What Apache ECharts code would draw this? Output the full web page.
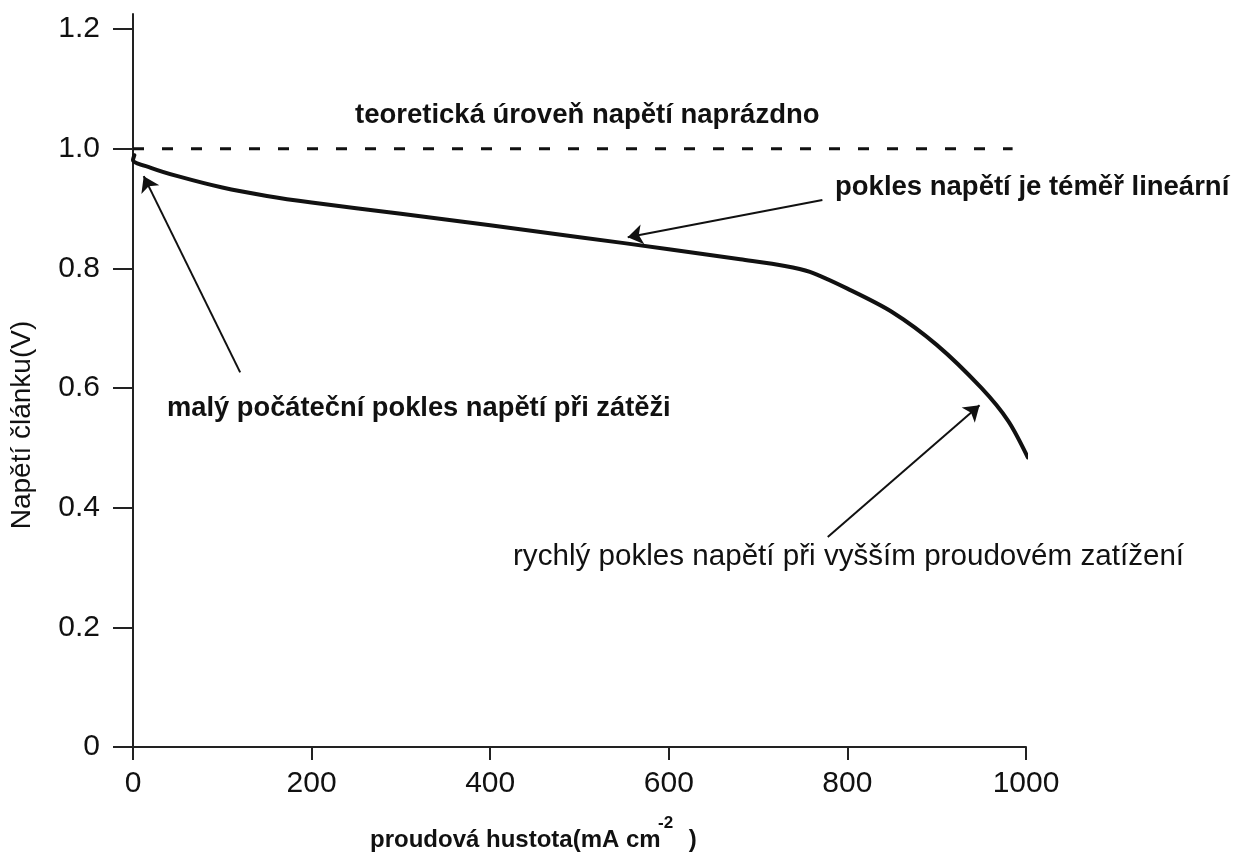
<!DOCTYPE html>
<html>
<head>
<meta charset="utf-8">
<script src="https://cdn.jsdelivr.net/npm/echarts@6/dist/echarts.min.js"></script>
<style>
html,body{margin:0;padding:0;background:#fff;}
#chart{width:1236px;height:852px;}
</style>
</head>
<body>
<div id="chart"></div>
<script>
// ---- data ----
var currentDensity = [1.5, 0, 20, 50, 100, 150, 200, 300, 400, 500, 600, 680, 730, 758, 800, 850, 900, 950, 980, 1002];
var cellVoltage    = [0.989, 0.981, 0.968, 0.954, 0.935, 0.921, 0.910, 0.891, 0.872, 0.852, 0.832, 0.815, 0.804, 0.794, 0.766, 0.727, 0.672, 0.600, 0.545, 0.484];
var openCircuitX = [0, 985];
var openCircuitV = [1.0, 1.0];
var xTicks = [0, 200, 400, 600, 800, 1000];
var yTicks = [0, 0.2, 0.4, 0.6, 0.8, 1.0, 1.2];
var arrowFrom = [[120, 0.626], [772, 0.914], [778, 0.351]];
var arrowTo   = [[12, 0.954], [554, 0.852], [948, 0.571]];
var notes = [
  {text: 'teoretická úroveň napětí naprázdno'},
  {text: 'pokles napětí je téměř lineární'},
  {text: 'malý počáteční pokles napětí při zátěži'},
  {text: 'rychlý pokles napětí při vyšším proudovém zatížení'}
];
var xTitle = ['proudová hustota(mA cm', '-2', ' )'];
var yTitle = 'Napětí článku(V)';

var FONT = '"Liberation Sans", Arial, Helvetica, sans-serif';
var INK = '#111';

var chart = echarts.init(document.getElementById('chart'));

var curve = currentDensity.map(function (x, i) { return [x, cellVoltage[i]]; });
var ocv = openCircuitX.map(function (x, i) { return [x, openCircuitV[i]]; });
var arrows = arrowFrom.map(function (f, i) { return {coords: [f, arrowTo[i]]}; });

var notePos = [
  {x: 355, y: 115, weight: 'bold', size: 27.5},
  {x: 835, y: 187, weight: 'bold', size: 27.5},
  {x: 167, y: 408, weight: 'bold', size: 27.3},
  {x: 513, y: 557, weight: 'normal', size: 29.6}
];

var graphics = notes.map(function (n, i) {
  var p = notePos[i];
  return {
    type: 'text', x: p.x, y: p.y, silent: true,
    style: {text: n.text, fill: INK, fontFamily: FONT, fontSize: p.size, fontWeight: p.weight,
            textAlign: 'left', textVerticalAlign: 'middle'}
  };
});
graphics.push({
  type: 'group', x: 370, y: 840, silent: true,
  children: [
    {type: 'text', x: 0, y: 0, style: {text: xTitle[0], fill: INK, fontFamily: FONT, fontSize: 24, fontWeight: 'bold', textVerticalAlign: 'middle'}},
    {type: 'text', x: 288, y: -17, style: {text: xTitle[1], fill: INK, fontFamily: FONT, fontSize: 17, fontWeight: 'bold', textVerticalAlign: 'middle'}},
    {type: 'text', x: 312, y: 0, style: {text: xTitle[2], fill: INK, fontFamily: FONT, fontSize: 24, fontWeight: 'bold', textVerticalAlign: 'middle'}}
  ]
});
graphics.push({
  type: 'text', x: 22, y: 425, rotation: Math.PI / 2, silent: true,
  style: {text: yTitle, fill: INK, fontFamily: FONT, fontSize: 28, textAlign: 'center', textVerticalAlign: 'middle'}
});

var option = {
  backgroundColor: '#fff',
  animation: false,
  grid: {left: 133, right: 210, top: 14, bottom: 105, containLabel: false},
  xAxis: {
    type: 'value', min: 0, max: 1000, interval: 200,
    axisLine: {show: true, onZero: false, lineStyle: {color: '#222', width: 2}},
    axisTick: {show: true, inside: false, length: 13, lineStyle: {color: '#222', width: 2}, customValues: xTicks},
    axisLabel: {show: true, margin: 22, color: '#111', fontFamily: FONT, fontSize: 30, customValues: xTicks,
      formatter: function (v) { return String(Math.round(v)); }},
    splitLine: {show: false}
  },
  yAxis: {
    type: 'value', min: 0, max: 1.225,
    axisLine: {show: true, onZero: false, lineStyle: {color: '#222', width: 2}},
    axisTick: {show: true, inside: false, length: 20, lineStyle: {color: '#222', width: 2}, customValues: yTicks},
    axisLabel: {show: true, margin: 33, color: '#111', fontFamily: FONT, fontSize: 30, customValues: yTicks,
      formatter: function (v) { return v === 0 ? '0' : v.toFixed(1); }},
    splitLine: {show: false}
  },
  series: [
    {
      type: 'line', data: ocv, showSymbol: false, symbol: 'none', silent: true,
      lineStyle: {color: INK, width: 3, type: [11, 18]}, z: 3
    },
    {
      type: 'line', data: curve, showSymbol: false, symbol: 'none', smooth: 0.3, silent: true,
      lineStyle: {color: INK, width: 4, cap: 'round', join: 'round'}, z: 4
    },
    {
      type: 'lines', coordinateSystem: 'cartesian2d', silent: true,
      symbol: ['none', 'arrow'], symbolSize: 15,
      lineStyle: {color: INK, width: 2, opacity: 1, curveness: 0},
      itemStyle: {color: INK},
      data: arrows, z: 5
    }
  ],
  graphic: graphics
};
chart.setOption(option);
</script>
</body>
</html>
